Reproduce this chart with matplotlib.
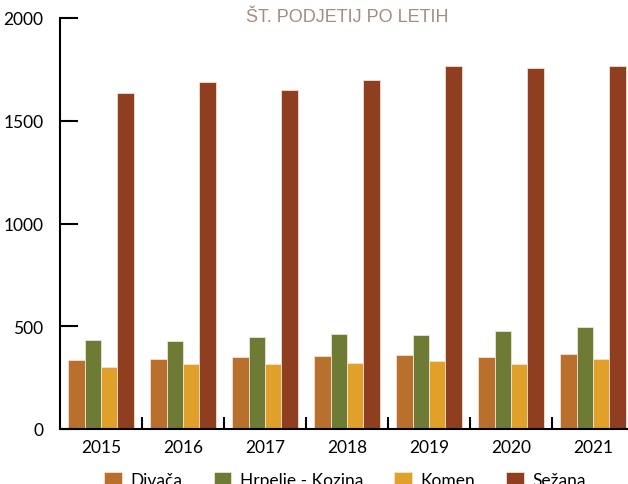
import numpy as np
import matplotlib.pyplot as plt
from matplotlib.ticker import FixedLocator, NullFormatter

years = ['2015', '2016', '2017', '2018', '2019', '2020', '2021']
divaca = [336, 339, 350, 354, 359, 350, 363]
hrpelje = [435, 427, 446, 461, 459, 477, 495]
komen = [300, 315, 318, 320, 331, 315, 339]
sezana = [1633, 1687, 1648, 1698, 1765, 1757, 1765]

names = ['Divača', 'Hrpelje - Kozina', 'Komen', 'Sežana']
colors = ['#B8702C', '#6E7B35', '#E0A02A', '#8F3E20']
series = [divaca, hrpelje, komen, sezana]

plt.rcParams['font.family'] = ['Lato', 'DejaVu Sans']

fig = plt.figure(figsize=(6.28, 4.85), dpi=100)
# axes runs a little past the right edge, like the original
ax = fig.add_axes([60/628, (485-430)/485, 574/628, 411/485])

x = np.arange(len(years)) + 0.5
w = 0.2
bars = []
for i, (vals, c) in enumerate(zip(series, colors)):
    b = ax.bar(x + (i - 1.5)*w, vals, width=w, color=c,
               edgecolor='#F2E2D2', linewidth=0.6, label=names[i])
    bars.append(b)

ax.set_xlim(0, 7)
ax.set_ylim(0, 2000)
ax.set_yticks([0, 500, 1000, 1500, 2000])
ax.tick_params(axis='y', direction='in', length=13, width=1.5, pad=12,
               labelsize=12.5, colors='black')
ax.xaxis.set_major_locator(FixedLocator(range(1, 8)))
ax.xaxis.set_major_formatter(NullFormatter())
ax.xaxis.set_minor_locator(FixedLocator(x))
ax.set_xticklabels(years, minor=True)
ax.tick_params(axis='x', which='major', direction='in', length=9, width=1.5)
ax.tick_params(axis='x', which='minor', length=0, pad=7, labelsize=12.5)

for s in ['top', 'right']:
    ax.spines[s].set_visible(False)
for s in ['left', 'bottom']:
    ax.spines[s].set_linewidth(1.5)

fig.text(347/628, 1 - 18/485, 'ŠT. PODJETIJ PO LETIH', ha='center', va='center',
         fontsize=13, color='#A38C80', family=['Liberation Sans', 'DejaVu Sans'])

fig.legend(handles=bars, labels=names, loc='upper center', ncol=4,
           bbox_to_anchor=(345/628, 1 - 464/485), frameon=False,
           fontsize=12.5, handlelength=1.0, handleheight=1.0,
           handletextpad=0.5, columnspacing=1.8, borderpad=0)

fig.savefig('out.png', dpi=100)
